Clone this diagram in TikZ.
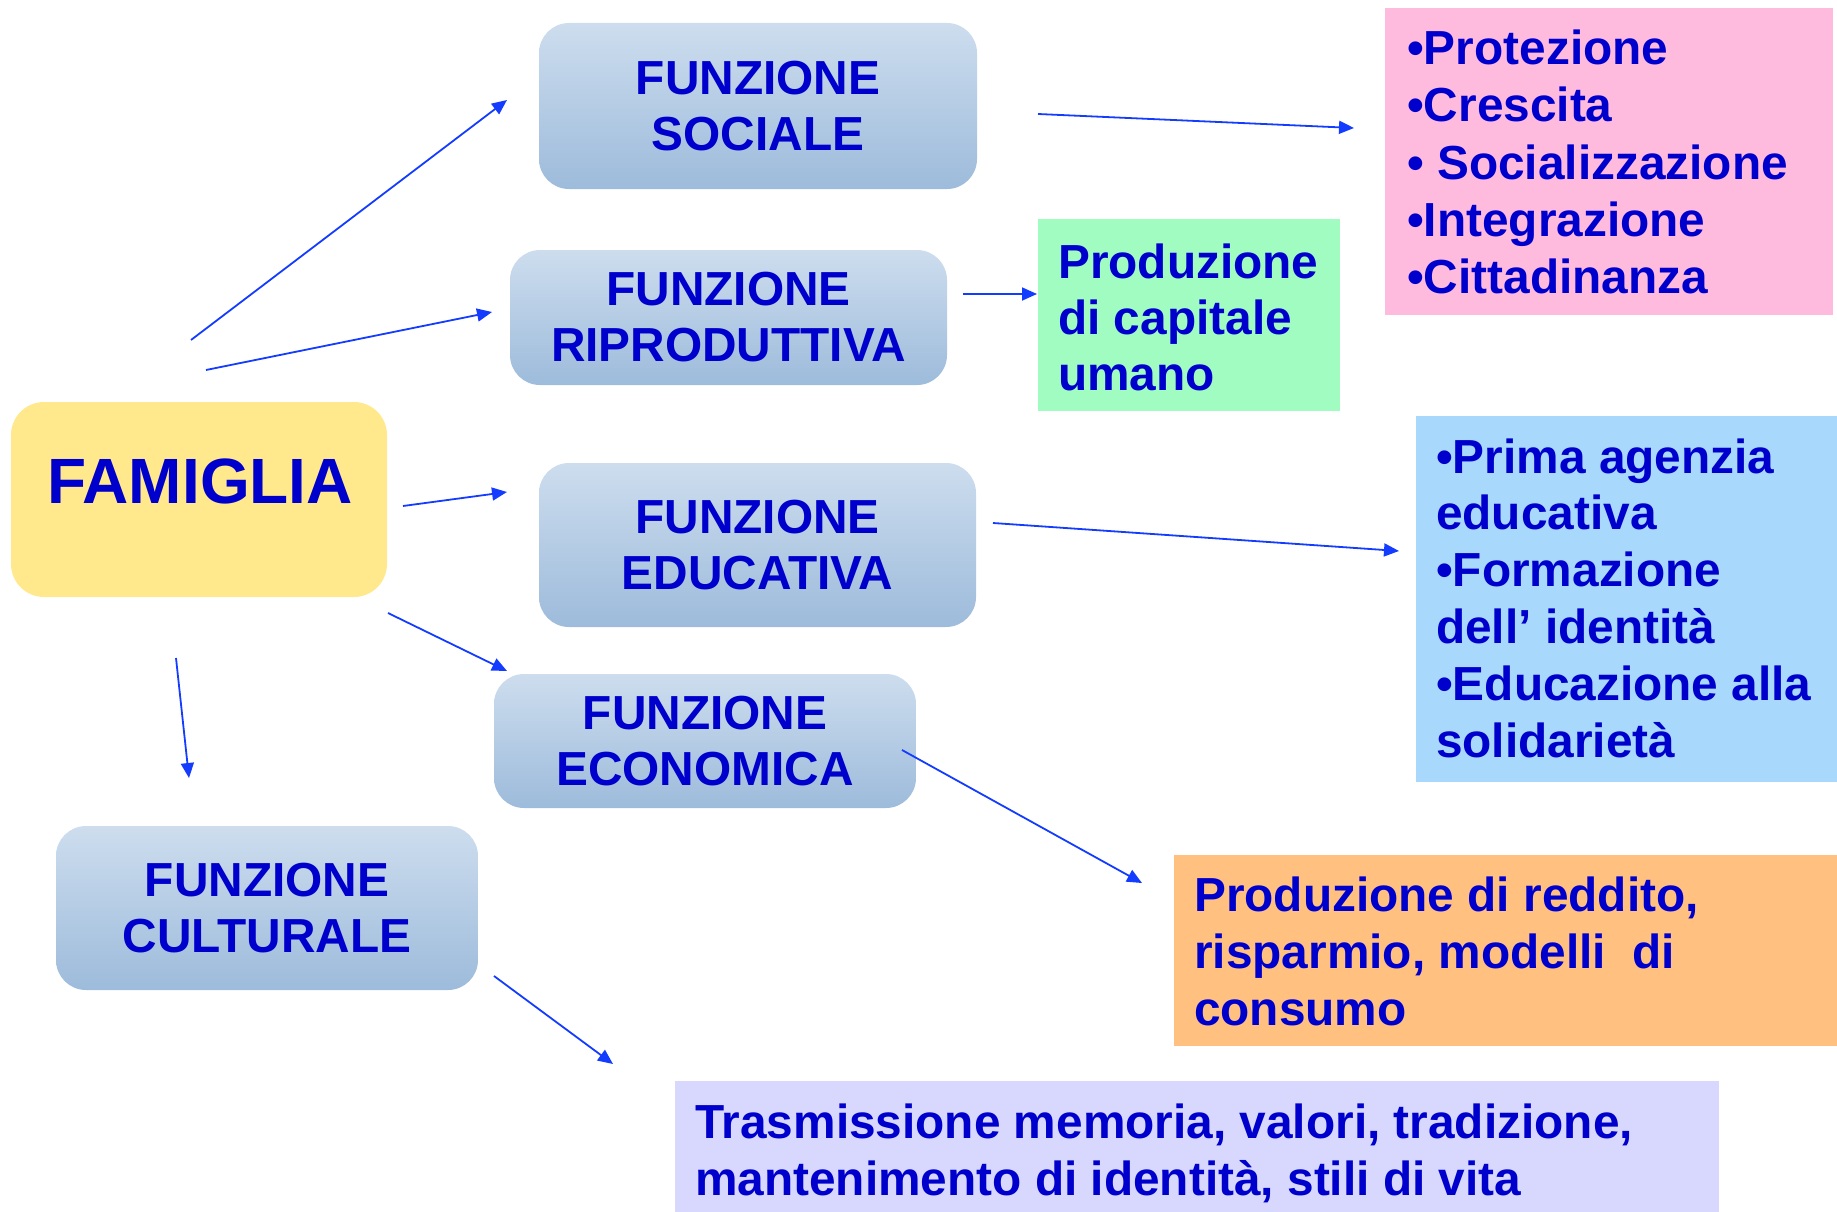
\documentclass[tikz,border=0pt]{standalone}
\usepackage{fontspec}
\setmainfont{Liberation Sans}
\usetikzlibrary{arrows.meta}
\definecolor{txtblue}{RGB}{0,0,204}
\definecolor{arrblue}{RGB}{20,60,255}
\definecolor{famfill}{RGB}{255,233,140}
\definecolor{gradtop}{RGB}{205,221,238}
\definecolor{gradbot}{RGB}{157,187,219}
\definecolor{pinkfill}{RGB}{255,187,221}
\definecolor{greenfill}{RGB}{160,252,192}
\definecolor{bluefill}{RGB}{168,216,252}
\definecolor{orangefill}{RGB}{255,192,128}
\definecolor{lavfill}{RGB}{216,216,255}
\tikzset{
  funbox/.style={rounded corners=30pt, top color=gradtop, bottom color=gradbot, draw=none,
    inner sep=0pt, align=center, text=txtblue,
    font=\fontsize{47.8}{56}\selectfont\bfseries},
  infobox/.style={draw=none, inner sep=0pt},
  infotxt/.style={anchor=base west, inner sep=0pt, text=txtblue,
    font=\fontsize{47.8}{56}\selectfont\bfseries},
  conn/.style={draw=arrblue, line width=1.8pt, -{Triangle[length=15pt,width=13pt]}}
}
\begin{document}
\begin{tikzpicture}[x=1pt,y=-1pt]
\useasboundingbox (0,0) rectangle (1837,1212);
% central node
\node[rounded corners=33pt, fill=famfill, minimum width=376pt, minimum height=195pt, inner sep=0pt] (fam) at (199,499.5) {};
\node[inner sep=0pt, text=txtblue, font=\fontsize{64}{70}\selectfont\bfseries, anchor=base] (famtxt) at (200,503) {FAMIGLIA};
% function boxes
\node[funbox, minimum width=438pt, minimum height=166pt] (soc) at (758,106) {FUNZIONE\\SOCIALE};
\node[funbox, minimum width=437pt, minimum height=135pt] (rip) at (728.5,317.5) {FUNZIONE\\RIPRODUTTIVA};
\node[funbox, minimum width=437pt, minimum height=164pt] (edu) at (757.5,545) {FUNZIONE\\EDUCATIVA};
\node[funbox, minimum width=422pt, minimum height=134pt] (eco) at (705,741) {FUNZIONE\\ECONOMICA};
\node[funbox, minimum width=422pt, minimum height=164pt] (cul) at (267,908) {FUNZIONE\\CULTURALE};
% info boxes
\node[infobox, fill=pinkfill, anchor=north west, minimum width=448pt, minimum height=307pt] (pink) at (1385,8) {};
\foreach \t [count=\i] in {•Protezione,•Crescita,• Socializzazione,•Integrazione,•Cittadinanza}
  \node[infotxt] (pink\i) at (1407,{65+57*(\i-1)}) {\t};
\node[infobox, fill=greenfill, anchor=north west, minimum width=302pt, minimum height=192pt] (green) at (1038,219) {};
\foreach \t [count=\i] in {Produzione,di capitale,umano}
  \node[infotxt] (green\i) at (1058,{278+56*(\i-1)}) {\t};
\node[infobox, fill=bluefill, anchor=north west, minimum width=421pt, minimum height=366pt] (blue) at (1416,416) {};
\foreach \t [count=\i] in {•Prima agenzia,educativa,•Formazione,dell’ identità,•Educazione alla,solidarietà}
  \node[infotxt] (blue\i) at (1436,{473+56.8*(\i-1)}) {\t};
\node[infobox, fill=orangefill, anchor=north west, minimum width=663pt, minimum height=191pt] (orange) at (1174,855) {};
\foreach \t [count=\i] in {{Produzione di reddito,},{risparmio, modelli\ \ di},consumo}
  \node[infotxt] (orange\i) at (1194,{911+57*(\i-1)}) {\t};
\node[infobox, fill=lavfill, anchor=north west, minimum width=1044pt, minimum height=131pt] (lav) at (675,1081) {};
\foreach \t [count=\i] in {{Trasmissione memoria, valori, tradizione,},{mantenimento di identità, stili di vita}}
  \node[infotxt] (lav\i) at (695,{1138+57*(\i-1)}) {\t};
% connector end points
\coordinate (a1s) at (191,340);  \coordinate (a1e) at (507,100);
\coordinate (a2s) at (206,370);  \coordinate (a2e) at (492,312);
\coordinate (a3s) at (403,506);  \coordinate (a3e) at (507,492);
\coordinate (a4s) at (388,613);  \coordinate (a4e) at (507,671);
\coordinate (a5s) at (176,658);  \coordinate (a5e) at (189,778);
\coordinate (b1s) at (1038,114); \coordinate (b1e) at (1354,128);
\coordinate (b2s) at (963,294);  \coordinate (b2e) at (1037,294);
\coordinate (b3s) at (993,523);  \coordinate (b3e) at (1399,551);
\coordinate (b4s) at (902,750);  \coordinate (b4e) at (1142,883);
\coordinate (b5s) at (494,976);  \coordinate (b5e) at (613,1064);
% connectors
\draw[conn] (a1s) -- (a1e);
\draw[conn] (a2s) -- (a2e);
\draw[conn] (a3s) -- (a3e);
\draw[conn] (a4s) -- (a4e);
\draw[conn] (a5s) -- (a5e);
\draw[conn] (b1s) -- (b1e);
\draw[conn] (b2s) -- (b2e);
\draw[conn] (b3s) -- (b3e);
\draw[conn] (b4s) -- (b4e);
\draw[conn] (b5s) -- (b5e);
\end{tikzpicture}
\end{document}
